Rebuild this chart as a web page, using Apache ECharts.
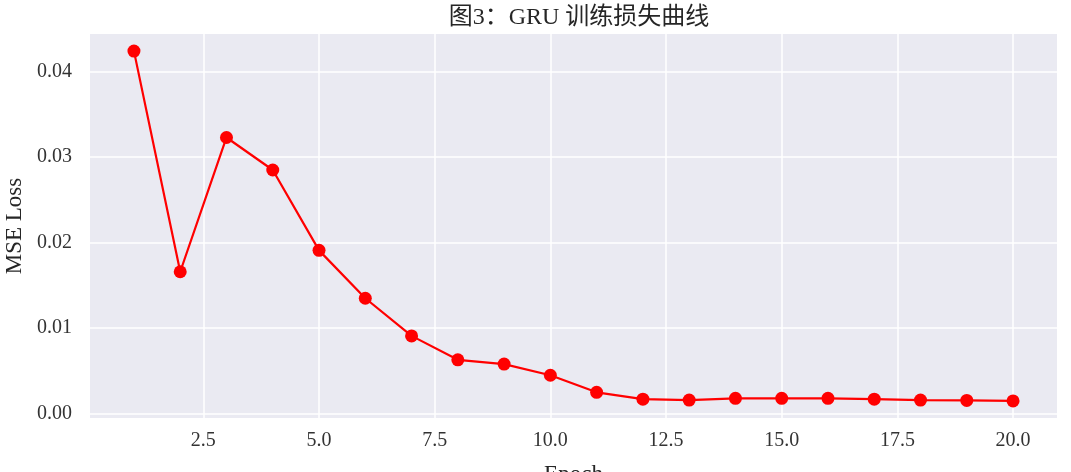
<!DOCTYPE html>
<html>
<head>
<meta charset="utf-8">
<script src="https://cdn.jsdelivr.net/npm/echarts@6/dist/echarts.min.js"></script>
<style>
  html, body { margin: 0; padding: 0; background: #fff; }
  #chart { width: 1071px; height: 472px; }
</style>
</head>
<body>
<div id="chart"></div>
<script>
// GRU training loss per epoch
var epochs = [1, 2, 3, 4, 5, 6, 7, 8, 9, 10, 11, 12, 13, 14, 15, 16, 17, 18, 19, 20];
var losses = [0.0424, 0.0166, 0.0323, 0.0285, 0.0191, 0.0135, 0.0091, 0.0063, 0.0058, 0.0045,
              0.0025, 0.0017, 0.0016, 0.0018, 0.0018, 0.0018, 0.0017, 0.0016, 0.00155, 0.0015];
var xTicks = [2.5, 5.0, 7.5, 10.0, 12.5, 15.0, 17.5, 20.0];
var yTicks = [0.00, 0.01, 0.02, 0.03, 0.04];

var chartDom = document.getElementById('chart');
var myChart = echarts.init(chartDom);
var serif = '"Liberation Serif", "Noto Sans CJK SC", serif';

var points = epochs.map(function (e, i) { return [e, losses[i]]; });

var option = {
    backgroundColor: '#ffffff',
    animation: false,
    title: {
        text: '图3：GRU 训练损失曲线',
        left: 574,
        textAlign: 'center',
        top: 1,
        textStyle: { fontFamily: serif, fontSize: 24, fontWeight: 'normal', color: '#262626' }
    },
    grid: {
        left: 90, right: 14, top: 34, bottom: 54,
        outerBoundsMode: 'none',
        containLabel: false,
        show: true, backgroundColor: '#EAEAF2', borderWidth: 0
    },
    xAxis: {
        type: 'value',
        min: 0.05,
        max: 20.95,
        name: 'Epoch',
        nameLocation: 'middle',
        nameGap: 45,
        nameTextStyle: { fontFamily: serif, fontSize: 23, color: '#262626' },
        axisLine: { show: false },
        axisTick: { show: false, customValues: xTicks },
        axisLabel: {
            customValues: xTicks,
            margin: 13,
            fontFamily: serif, fontSize: 20, color: '#333333',
            formatter: function (v) { return v.toFixed(1); }
        },
        splitLine: { show: true, lineStyle: { color: '#ffffff', width: 1.5 } }
    },
    yAxis: {
        type: 'value',
        min: -0.0005,
        max: 0.0444,
        name: 'MSE Loss',
        nameLocation: 'middle',
        nameGap: 64,
        nameTextStyle: { fontFamily: serif, fontSize: 23, color: '#262626' },
        axisLine: { show: false },
        axisTick: { show: false, customValues: yTicks },
        axisLabel: {
            customValues: yTicks,
            margin: 18,
            fontFamily: serif, fontSize: 20, color: '#333333',
            formatter: function (v) { return v.toFixed(2); }
        },
        splitLine: { show: true, lineStyle: { color: '#ffffff', width: 1.5 } }
    },
    series: [{
        type: 'line',
        data: points,
        symbol: 'circle',
        symbolSize: 13,
        itemStyle: { color: '#ff0000' },
        lineStyle: { color: '#ff0000', width: 2.2 }
    }]
};

option && myChart.setOption(option);
</script>
</body>
</html>
